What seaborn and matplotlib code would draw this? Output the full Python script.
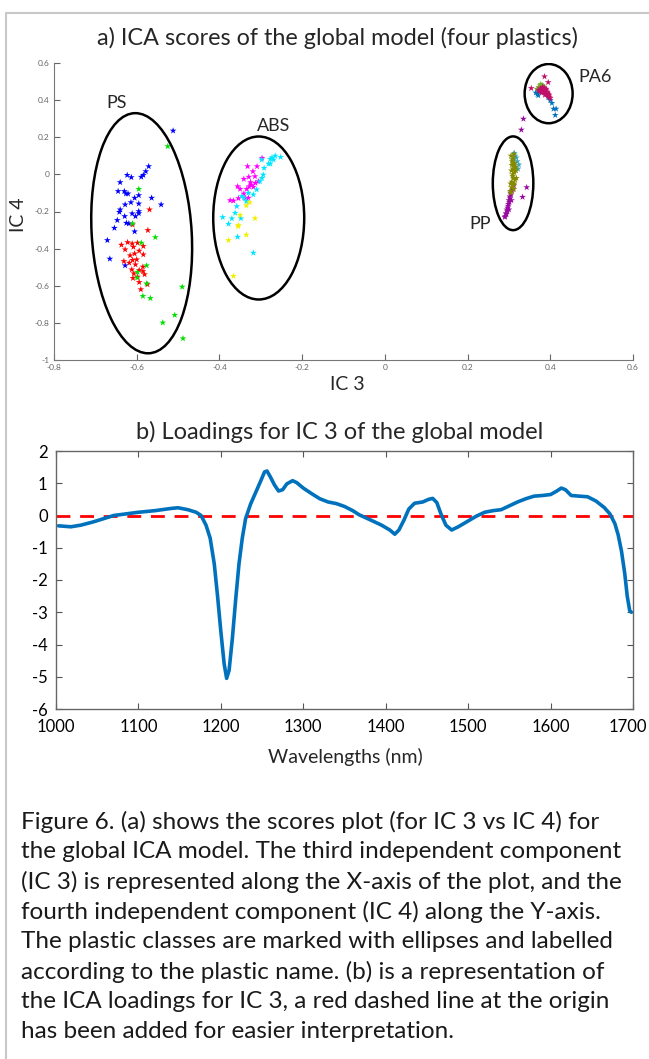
import numpy as np
import pandas as pd
import seaborn as sns
import matplotlib.pyplot as plt
from matplotlib.patches import Ellipse
from matplotlib.lines import Line2D
from matplotlib.transforms import ScaledTranslation

# ---- panel a: ICA scores (IC 3 vs IC 4) ----
ps_blue_x = [-0.512, -0.571, -0.578, -0.584, -0.589, -0.613, -0.623, -0.640, -0.645, -0.630,
             -0.626, -0.621, -0.595, -0.605, -0.564, -0.614, -0.595, -0.628, -0.541, -0.640,
             -0.642, -0.595, -0.611, -0.595, -0.629, -0.647, -0.625, -0.603, -0.654, -0.605,
             -0.671, -0.665, -0.628, -0.619]
ps_blue_y = [0.235, 0.043, 0.016, -0.004, -0.014, -0.016, -0.004, -0.043, -0.091, -0.091,
             -0.104, -0.104, -0.113, -0.127, -0.127, -0.151, -0.158, -0.163, -0.163, -0.190,
             -0.203, -0.199, -0.211, -0.210, -0.226, -0.247, -0.262, -0.226, -0.289, -0.308,
             -0.355, -0.455, -0.491, -0.265]
ps_red_x = [-0.569, -0.573, -0.637, -0.622, -0.611, -0.598, -0.608, -0.584, -0.628, -0.594,
            -0.605, -0.616, -0.584, -0.631, -0.610, -0.600, -0.618, -0.603, -0.585, -0.612,
            -0.594, -0.607, -0.585, -0.598, -0.581, -0.609, -0.594, -0.574, -0.590, -0.610]
ps_red_y = [-0.190, -0.301, -0.380, -0.366, -0.373, -0.369, -0.391, -0.387, -0.405, -0.412,
            -0.427, -0.437, -0.432, -0.468, -0.462, -0.459, -0.477, -0.486, -0.498, -0.513,
            -0.516, -0.534, -0.522, -0.552, -0.539, -0.559, -0.581, -0.593, -0.620, -0.271]
ps_green_x = [-0.525, -0.595, -0.610, -0.589, -0.555, -0.576, -0.598, -0.599, -0.576, -0.585,
              -0.567, -0.490, -0.508, -0.537, -0.488]
ps_green_y = [0.151, -0.079, -0.265, -0.369, -0.339, -0.491, -0.527, -0.557, -0.588, -0.656,
              -0.667, -0.606, -0.758, -0.799, -0.884]

abs_magenta_x = [-0.297, -0.309, -0.332, -0.319, -0.314, -0.329, -0.341, -0.313, -0.323, -0.328,
                 -0.318, -0.356, -0.350, -0.334, -0.341, -0.330, -0.354, -0.374, -0.366, -0.338,
                 -0.306, -0.325]
abs_magenta_y = [0.088, 0.043, 0.043, 0.016, -0.011, -0.014, -0.025, -0.047, -0.056, -0.065,
                 -0.068, -0.065, -0.079, -0.079, -0.104, -0.127, -0.129, -0.140, -0.142, -0.127,
                 -0.038, -0.043]
abs_cyan_x = [-0.252, -0.265, -0.273, -0.277, -0.269, -0.281, -0.277, -0.292, -0.294, -0.297,
              -0.302, -0.310, -0.318, -0.330, -0.335, -0.341, -0.358, -0.362, -0.392, -0.378,
              -0.370, -0.348, -0.356, -0.318, -0.346, -0.298]
abs_cyan_y = [0.093, 0.100, 0.090, 0.082, 0.079, 0.057, 0.057, 0.034, -0.002, -0.020,
              -0.038, -0.082, -0.109, -0.100, -0.145, -0.127, -0.172, -0.208, -0.231, -0.267,
              -0.238, -0.237, -0.337, -0.423, -0.118, 0.079]
abs_yellow_x = [-0.327, -0.335, -0.350, -0.314, -0.355, -0.335, -0.378, -0.366, -0.354]
abs_yellow_y = [-0.151, -0.168, -0.220, -0.237, -0.280, -0.326, -0.355, -0.548, -0.274]

pa6_crimson_x = [0.372, 0.376, 0.378, 0.380, 0.382, 0.383, 0.385, 0.386, 0.387, 0.388,
                 0.389, 0.390, 0.391, 0.392, 0.393, 0.394, 0.395, 0.396, 0.398, 0.400,
                 0.381, 0.384, 0.379, 0.387, 0.390, 0.393, 0.397, 0.374, 0.386, 0.392,
                 0.386, 0.395, 0.354]
pa6_crimson_y = [0.455, 0.462, 0.450, 0.458, 0.445, 0.465, 0.452, 0.440, 0.458, 0.447,
                 0.436, 0.452, 0.430, 0.445, 0.438, 0.425, 0.432, 0.420, 0.415, 0.410,
                 0.470, 0.448, 0.440, 0.428, 0.460, 0.442, 0.428, 0.448, 0.465, 0.435,
                 0.527, 0.496, 0.464]
pa6_green_x = [0.368, 0.372, 0.375, 0.378, 0.381, 0.376, 0.370, 0.383, 0.379, 0.373, 0.385, 0.377]
pa6_green_y = [0.460, 0.470, 0.478, 0.472, 0.480, 0.455, 0.450, 0.474, 0.462, 0.445, 0.468, 0.486]
pa6_blue_x = [0.365, 0.369, 0.404, 0.408, 0.414, 0.412, 0.400, 0.395, 0.371]
pa6_blue_y = [0.440, 0.432, 0.384, 0.353, 0.353, 0.319, 0.400, 0.415, 0.425]

pp_olive_x = [0.305, 0.308, 0.310, 0.312, 0.314, 0.306, 0.309, 0.311, 0.313, 0.315,
              0.304, 0.307, 0.310, 0.312, 0.316, 0.303, 0.308, 0.311, 0.314, 0.309,
              0.306, 0.313, 0.317, 0.310, 0.305, 0.312, 0.318, 0.307]
pp_olive_y = [0.10, 0.08, 0.06, 0.05, 0.03, 0.02, 0.00, -0.02, 0.01, -0.03,
              -0.05, -0.04, -0.06, -0.08, 0.04, -0.09, 0.07, 0.09, 0.06, -0.01,
              -0.07, -0.05, 0.02, 0.03, -0.10, 0.11, -0.02, 0.05]
pp_teal_x = [0.313, 0.318, 0.320, 0.324, 0.315, 0.322, 0.311]
pp_teal_y = [0.115, 0.090, 0.070, 0.052, 0.100, 0.030, 0.080]
pp_purple_x = [0.291, 0.293, 0.295, 0.297, 0.299, 0.300, 0.302, 0.304, 0.296, 0.298,
               0.301, 0.303, 0.305, 0.307, 0.294, 0.300, 0.306, 0.309, 0.343, 0.333,
               0.312, 0.290, 0.335, 0.330]
pp_purple_y = [-0.226, -0.210, -0.190, -0.180, -0.160, -0.140, -0.120, -0.100, -0.200, -0.170,
               -0.150, -0.130, -0.110, -0.090, -0.215, -0.190, -0.140, -0.080, -0.070, -0.122,
               -0.060, -0.230, 0.299, 0.240]

# class ellipses: centre x, centre y, width, height, tilt (deg)
ell_names = ['PS', 'ABS', 'PA6', 'PP']
ell_cx = [-0.588, -0.305, 0.396, 0.310]
ell_cy = [-0.317, -0.235, 0.435, -0.048]
ell_w = [0.242, 0.220, 0.116, 0.098]
ell_h = [1.294, 0.878, 0.319, 0.505]
ell_tilt = [1.4, 0.0, 0.0, 0.0]
label_x = [-0.648, -0.269, 0.509, 0.230]
label_y = [0.387, 0.262, 0.527, -0.270]

# ---- panel b: loadings for IC 3 ----
wavelength = [1003, 1018, 1030, 1045, 1060, 1070, 1085, 1100, 1120, 1140, 1148, 1160, 1170, 1176,
              1182, 1187, 1192, 1196, 1200, 1204, 1207, 1210, 1214, 1218, 1222, 1226, 1230, 1236,
              1242, 1248, 1253, 1256, 1260, 1265, 1270, 1275, 1280, 1287, 1292, 1300, 1310, 1320,
              1330, 1340, 1350, 1360, 1368, 1380, 1395, 1405, 1411, 1416, 1422, 1428, 1435, 1445,
              1452, 1457, 1462, 1467, 1473, 1480, 1488, 1498, 1510, 1520, 1530, 1540, 1550, 1560,
              1570, 1580, 1590, 1600, 1607, 1613, 1618, 1625, 1635, 1645, 1655, 1665, 1672, 1678,
              1682, 1686, 1690, 1693, 1696, 1698]
loading = [-0.32, -0.35, -0.30, -0.20, -0.08, 0.00, 0.05, 0.10, 0.15, 0.22, 0.24, 0.18, 0.10, 0.00,
           -0.30, -0.70, -1.50, -2.50, -3.60, -4.60, -5.05, -4.80, -3.80, -2.60, -1.50, -0.70, -0.10, 0.35,
           0.70, 1.05, 1.35, 1.38, 1.20, 0.95, 0.76, 0.80, 0.98, 1.08, 1.02, 0.85, 0.68, 0.52,
           0.42, 0.37, 0.28, 0.15, 0.02, -0.12, -0.30, -0.45, -0.58, -0.45, -0.15, 0.20, 0.38, 0.42,
           0.50, 0.53, 0.40, 0.05, -0.30, -0.45, -0.35, -0.20, -0.02, 0.10, 0.15, 0.18, 0.30, 0.42,
           0.52, 0.60, 0.62, 0.65, 0.75, 0.85, 0.80, 0.62, 0.60, 0.58, 0.45, 0.25, 0.05, -0.25,
           -0.60, -1.10, -1.80, -2.50, -2.95, -3.00]

caption_lines = [
    "Figure 6. (a) shows the scores plot (for IC 3 vs IC 4) for",
    "the global ICA model. The third independent component",
    "(IC 3) is represented along the X-axis of the plot, and the",
    "fourth independent component (IC 4) along the Y-axis.",
    "The plastic classes are marked with ellipses and labelled",
    "according to the plastic name. (b) is a representation of",
    "the ICA loadings for IC 3, a red dashed line at the origin",
    "has been added for easier interpretation.",
]

groups = {
    'ps_blue': (ps_blue_x, ps_blue_y, '#0000ff'),
    'ps_red': (ps_red_x, ps_red_y, '#ff0000'),
    'ps_green': (ps_green_x, ps_green_y, '#00e000'),
    'abs_magenta': (abs_magenta_x, abs_magenta_y, '#ff00ff'),
    'abs_cyan': (abs_cyan_x, abs_cyan_y, '#00e5ff'),
    'abs_yellow': (abs_yellow_x, abs_yellow_y, '#f0f000'),
    'pa6_green': (pa6_green_x, pa6_green_y, '#77ac30'),
    'pa6_blue': (pa6_blue_x, pa6_blue_y, '#0072bd'),
    'pa6_crimson': (pa6_crimson_x, pa6_crimson_y, '#c0106a'),
    'pp_purple': (pp_purple_x, pp_purple_y, '#9a0aa0'),
    'pp_teal': (pp_teal_x, pp_teal_y, '#3aa6c0'),
    'pp_olive': (pp_olive_x, pp_olive_y, '#858a00'),
}
rows = []
for name, (xs, ys, _) in groups.items():
    for xv, yv in zip(xs, ys):
        rows.append({'IC3': xv, 'IC4': yv, 'group': name})
scores = pd.DataFrame(rows)
palette = {k: v[2] for k, v in groups.items()}

sns.set_style('white')
plt.rcParams['font.family'] = ['Lato', 'DejaVu Sans']
plt.rcParams['axes.unicode_minus'] = False

W, H = 649, 1059
fig = plt.figure(figsize=(W / 100, H / 100), dpi=100)

# page frame (left and top edges of the grey box)
fig.add_artist(Line2D([6 / W, 6 / W], [0, 1 - 13 / H], color='#c8c8c8', lw=1.5))
fig.add_artist(Line2D([6 / W, 1], [1 - 13 / H, 1 - 13 / H], color='#c8c8c8', lw=1.5))

# ---- panel a ----
ax1 = fig.add_axes([54 / W, 1 - 360 / H, 579 / W, 297 / H])
sns.scatterplot(data=scores, x='IC3', y='IC4', hue='group', palette=palette,
                marker='*', s=26, linewidth=0, legend=False, ax=ax1)
for i in range(len(ell_names)):
    ax1.add_patch(Ellipse((ell_cx[i], ell_cy[i]), ell_w[i], ell_h[i], angle=ell_tilt[i],
                          fill=False, edgecolor='black', lw=1.8))
    ax1.text(label_x[i], label_y[i], ell_names[i], fontsize=13, ha='center', va='center')
ax1.set_xlim(-0.8, 0.6)
ax1.set_ylim(-1, 0.6)
ax1.set_xticks(np.arange(-0.8, 0.61, 0.2))
ax1.set_yticks(np.arange(-1, 0.61, 0.2))
ax1.set_xticklabels(['-0.8', '-0.6', '-0.4', '-0.2', '0', '0.2', '0.4', '0.6'])
ax1.set_yticklabels(['-1', '-0.8', '-0.6', '-0.4', '-0.2', '0', '0.2', '0.4', '0.6'])
ax1.tick_params(direction='in', length=4, width=0.8, colors='#666666', labelsize=6,
                bottom=True, left=True, pad=3)
for side in ['top', 'right']:
    ax1.spines[side].set_visible(False)
for side in ['left', 'bottom']:
    ax1.spines[side].set_color('#777777')
    ax1.spines[side].set_linewidth(0.8)
ax1.set_xlabel('')
ax1.set_ylabel('')
fig.text(337 / W, 1 - 38 / H, 'a) ICA scores of the global model (four plastics)',
         fontsize=16.8, ha='center', va='center')
fig.text(347 / W, 1 - 385 / H, 'IC 3', fontsize=14, ha='center', va='center')
fig.text(19 / W, 1 - 215 / H, 'IC 4', fontsize=14, ha='center', va='center', rotation=90)

# ---- panel b ----
ax2 = fig.add_axes([56 / W, 1 - 709 / H, 577 / W, 258 / H])
ax2.axhline(0, color='#ff0000', lw=2, ls=(0, (5, 3.5)), zorder=1)
sns.lineplot(x=wavelength, y=loading, color='#0072bd', lw=2.6, ax=ax2, zorder=2)
ax2.set_xlim(1000, 1700)
ax2.set_ylim(-6, 2)
ax2.set_xticks(range(1000, 1701, 100))
ax2.set_yticks(range(-6, 3))
ax2.tick_params(direction='in', length=4, width=0.8, color='#555555', labelcolor='black',
                labelsize=12, top=True, right=True, bottom=True, left=True)
ax2.tick_params(axis='x', pad=7)
ax2.tick_params(axis='y', pad=6)
# nudge the last x label so it stays inside the page
last = ax2.get_xticklabels()[-1]
last.set_transform(last.get_transform() + ScaledTranslation(-5 / 100, 0, fig.dpi_scale_trans))
for side in ax2.spines.values():
    side.set_color('#666666')
    side.set_linewidth(1.0)
fig.text(340 / W, 1 - 432 / H, 'b) Loadings for IC 3 of the global model',
         fontsize=17, ha='center', va='center')
fig.text(345 / W, 1 - 757 / H, 'Wavelengths (nm)', fontsize=14, ha='center', va='center')

# ---- caption ----
for k, line in enumerate(caption_lines):
    fig.text(21 / W, 1 - (822 + 30 * k) / H, line, fontsize=17.5, ha='left', va='center',
             color='#1a1a1a')

fig.savefig('out.png', dpi=100)
